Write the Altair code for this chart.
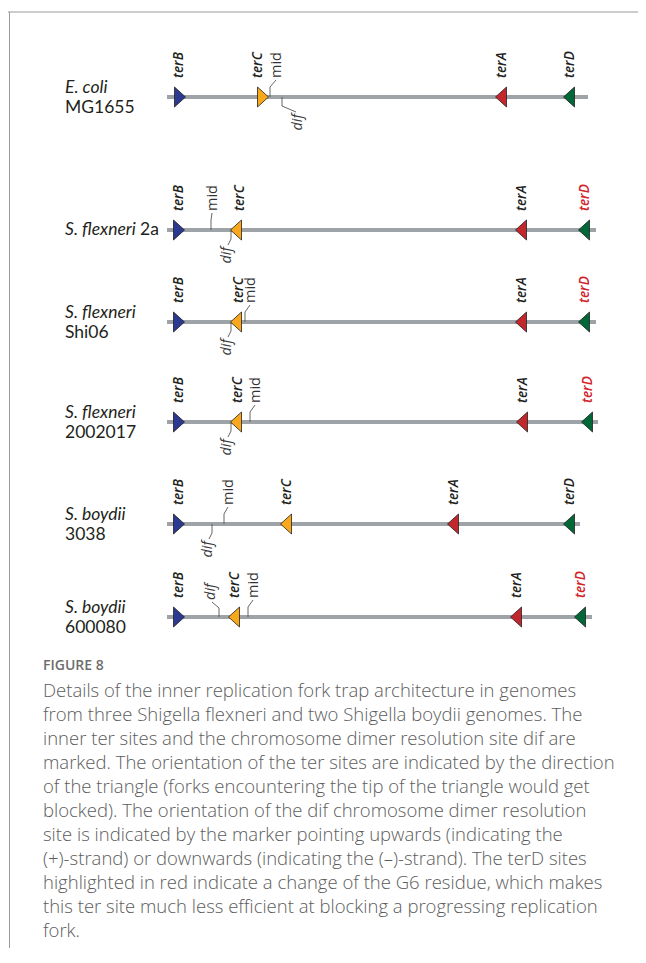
import altair as alt
import pandas as pd

# ---------------- data ----------------
species = ["E. coli", "S. flexneri", "S. flexneri", "S. flexneri", "S. boydii", "S. boydii"]
strain = ["MG1655", "2a", "Shi06", "2002017", "3038", "600080"]
strain_inline = [False, True, False, False, False, False]
row_y = [97, 230, 322, 422, 524, 617]          # track positions

line_start = [167, 167, 167, 167, 167, 167]
line_end = [588, 596, 596, 598, 580, 592]

terB_pos = [180, 179, 179, 179, 179, 179]
terC_pos = [263, 236, 236, 236, 286, 234]
terA_pos = [501, 521, 521, 522, 453, 516]
terD_pos = [569, 584, 584, 587, 569, 580]
terC_dir = ["right", "left", "left", "left", "left", "left"]
terD_changed = [False, True, True, True, False, True]

terB_lab = [179, 179, 179, 179, 179, 179]
terC_lab = [258, 240, 239, 238, 287, 235]
terA_lab = [502, 522, 522, 523, 454, 517]
terD_lab = [570, 585, 585, 588, 570, 581]

mid_pos = [270, 211, 245, 250, 224, 248]
mid_lab = [277, 213, 251, 256, 229, 254]
dif_pos = [282, 231, 231, 231, 212, 219]
dif_lab = [298, 227, 227, 227, 208, 211]
dif_strand = ["-", "-", "-", "-", "-", "+"]

caption_title = "FIGURE 8"
caption_lines = [
    "Details of the inner replication fork trap architecture in genomes",
    "from three Shigella flexneri and two Shigella boydii genomes. The",
    "inner ter sites and the chromosome dimer resolution site dif are",
    "marked. The orientation of the ter sites are indicated by the direction",
    "of the triangle (forks encountering the tip of the triangle would get",
    "blocked). The orientation of the dif chromosome dimer resolution",
    "site is indicated by the marker pointing upwards (indicating the",
    "(+)-strand) or downwards (indicating the (\u2013)-strand). The terD sites",
    "highlighted in red indicate a change of the G6 residue, which makes",
    "this ter site much less efficient at blocking a progressing replication",
    "fork.",
]

# ---------------- styles ----------------
W, H = 630, 940
site_colors = {"terB": "#2b3990", "terC": "#f8a81d", "terA": "#c1272d", "terD": "#006837"}
TRACK_GRAY = "#9ea3a8"
LEAD_GRAY = "#555555"
RED = "#d2232a"
INK = "#231f20"
LAB_FONT = "Open Sans"
NAME_FONT = "Lato"
TRI_R = "M-0.55,-1L0.55,0L-0.55,1Z"
TRI_L = "M0.55,-1L-0.55,0L0.55,1Z"

xs = alt.Scale(domain=[8, 8 + W], nice=False, zero=False)
ys = alt.Scale(domain=[8, 8 + H], nice=False, zero=False, reverse=True)
X = lambda f="x": alt.X(f"{f}:Q", scale=xs, axis=None)
Y = lambda f="y": alt.Y(f"{f}:Q", scale=ys, axis=None)

# ---------------- tables ----------------
tracks = pd.DataFrame({"x": line_start, "x2": line_end, "y": row_y})

site_rows = []
for i in range(6):
    for name, pos, d in [("terB", terB_pos[i], "right"), ("terC", terC_pos[i], terC_dir[i]),
                         ("terA", terA_pos[i], "left"), ("terD", terD_pos[i], "left")]:
        site_rows.append({"x": pos, "y": row_y[i], "site": name, "dir": d})
sites = pd.DataFrame(site_rows)

lab_rows = []
for i in range(6):
    for name, pos in [("terB", terB_lab[i]), ("terC", terC_lab[i]), ("terA", terA_lab[i]), ("terD", terD_lab[i])]:
        red = name == "terD" and terD_changed[i]
        lab_rows.append({"x": pos, "y": row_y[i] - 19, "text": name, "tone": "red" if red else "ink"})
ter_labels = pd.DataFrame(lab_rows)

mid_labels = pd.DataFrame({"x": mid_lab, "y": [r - 19 for r in row_y], "text": "mid"})
dif_up = pd.DataFrame([{"x": dif_lab[i], "y": row_y[i] - 17, "text": "dif"}
                       for i in range(6) if dif_strand[i] == "+"])
dif_down = pd.DataFrame([{"x": dif_lab[i], "y": row_y[i] + 17, "text": "dif"}
                         for i in range(6) if dif_strand[i] == "-"])

lead_rows = []
for i in range(6):
    r = row_y[i]
    pts = [(mid_pos[i], r), (mid_pos[i], r - 10), (mid_lab[i] - 1, r - 17)]
    for k, (px, py) in enumerate(pts):
        lead_rows.append({"lid": f"mid{i}", "o": k, "x": px, "y": py})
    s = 1 if dif_strand[i] == "-" else -1
    pts = [(dif_pos[i], r), (dif_pos[i], r + s * 9),
           (dif_lab[i] + (1 if dif_lab[i] < dif_pos[i] else -2), r + s * 15)]
    for k, (px, py) in enumerate(pts):
        lead_rows.append({"lid": f"dif{i}", "o": k, "x": px, "y": py})
leaders = pd.DataFrame(lead_rows)

names_rows = []
for i in range(6):
    if strain_inline[i]:
        names_rows.append({"x": 65, "y": row_y[i], "text": species[i], "kind": "sp"})
        names_rows.append({"x": 65, "y": row_y[i], "text": strain[i], "kind": "inline"})
    else:
        names_rows.append({"x": 65, "y": row_y[i] - 9, "text": species[i], "kind": "sp"})
        names_rows.append({"x": 65, "y": row_y[i] + 11, "text": strain[i], "kind": "st"})
names = pd.DataFrame(names_rows)

cap = pd.DataFrame({"x": 43, "y": [691 + 24.0 * k for k in range(len(caption_lines))], "text": caption_lines})
cap_title = pd.DataFrame({"x": [43], "y": [666], "text": [caption_title]})

# ---------------- layers ----------------
frame_top = alt.Chart(pd.DataFrame({"a": [0]})).mark_rule(color="#9a9a9a", strokeWidth=1).encode(
    x=alt.value(0), x2=alt.value(W), y=alt.value(4))
frame_left = alt.Chart(pd.DataFrame({"a": [0]})).mark_rule(color="#9a9a9a", strokeWidth=1).encode(
    x=alt.value(1.5), y=alt.value(4), y2=alt.value(H))

track_layer = alt.Chart(tracks).mark_rule(color=TRACK_GRAY, strokeWidth=4).encode(
    x=X(), x2="x2:Q", y=Y())

lead_layer = alt.Chart(leaders).mark_line(color=LEAD_GRAY, strokeWidth=0.9).encode(
    x=X(), y=Y(), detail="lid:N", order="o:Q")

tri_layer = alt.Chart(sites).mark_point(filled=True, size=400, stroke=INK, strokeWidth=0.8, opacity=1).encode(
    x=X(), y=Y(),
    shape=alt.Shape("dir:N", scale=alt.Scale(domain=["right", "left"], range=[TRI_R, TRI_L]), legend=None),
    color=alt.Color("site:N", scale=alt.Scale(domain=list(site_colors), range=list(site_colors.values())),
                    legend=None),
)

ter_lab_layer = alt.Chart(ter_labels).mark_text(
    angle=270, align="left", baseline="middle", font=LAB_FONT, fontSize=13.5,
    fontStyle="italic", fontWeight=600).encode(
    x=X(), y=Y(), text="text:N",
    color=alt.condition(alt.datum.tone == "red", alt.value(RED), alt.value(INK)))

mid_layer = alt.Chart(mid_labels).mark_text(
    angle=270, align="left", baseline="middle", font=LAB_FONT, fontSize=14.5, color="#333333").encode(
    x=X(), y=Y(), text="text:N")

dif_up_layer = alt.Chart(dif_up).mark_text(
    angle=270, align="left", baseline="middle", font=LAB_FONT, fontSize=14.5,
    fontStyle="italic", color="#3a3a3a").encode(x=X(), y=Y(), text="text:N")
dif_down_layer = alt.Chart(dif_down).mark_text(
    angle=270, align="right", baseline="middle", font=LAB_FONT, fontSize=14.5,
    fontStyle="italic", color="#3a3a3a").encode(x=X(), y=Y(), text="text:N")

sp_layer = alt.Chart(names).transform_filter(alt.datum.kind == "sp").mark_text(
    align="left", baseline="middle", font=NAME_FONT, fontSize=17.5, fontStyle="italic",
    fontWeight=400, color=INK).encode(x=X(), y=Y(), text="text:N")
st_layer = alt.Chart(names).transform_filter(alt.datum.kind == "st").mark_text(
    align="left", baseline="middle", font=NAME_FONT, fontSize=17.5, fontWeight=400, color=INK).encode(
    x=X(), y=Y(), text="text:N")
inline_layer = alt.Chart(names).transform_filter(alt.datum.kind == "inline").mark_text(
    align="left", baseline="middle", font=NAME_FONT, fontSize=17.5, fontWeight=400, color=INK, dx=75).encode(
    x=X(), y=Y(), text="text:N")

cap_title_layer = alt.Chart(cap_title).mark_text(
    align="left", baseline="middle", font="Open Sans", fontSize=14, fontWeight=600, color="#6d6d6d").encode(
    x=X(), y=Y(), text="text:N")
cap_layer = alt.Chart(cap).mark_text(
    align="left", baseline="middle", font="Open Sans", fontSize=18.5, fontWeight=300, color="#5c5c5c").encode(
    x=X(), y=Y(), text="text:N")

chart = alt.layer(
    frame_top, frame_left, track_layer, lead_layer, tri_layer,
    ter_lab_layer, mid_layer, dif_up_layer, dif_down_layer,
    sp_layer, st_layer, inline_layer, cap_title_layer, cap_layer,
).properties(width=W, height=H, padding=0, autosize=alt.AutoSizeParams(type="none")).configure_view(stroke=None)

chart.save("out.html", embed_options={"renderer": "svg", "actions": False})
